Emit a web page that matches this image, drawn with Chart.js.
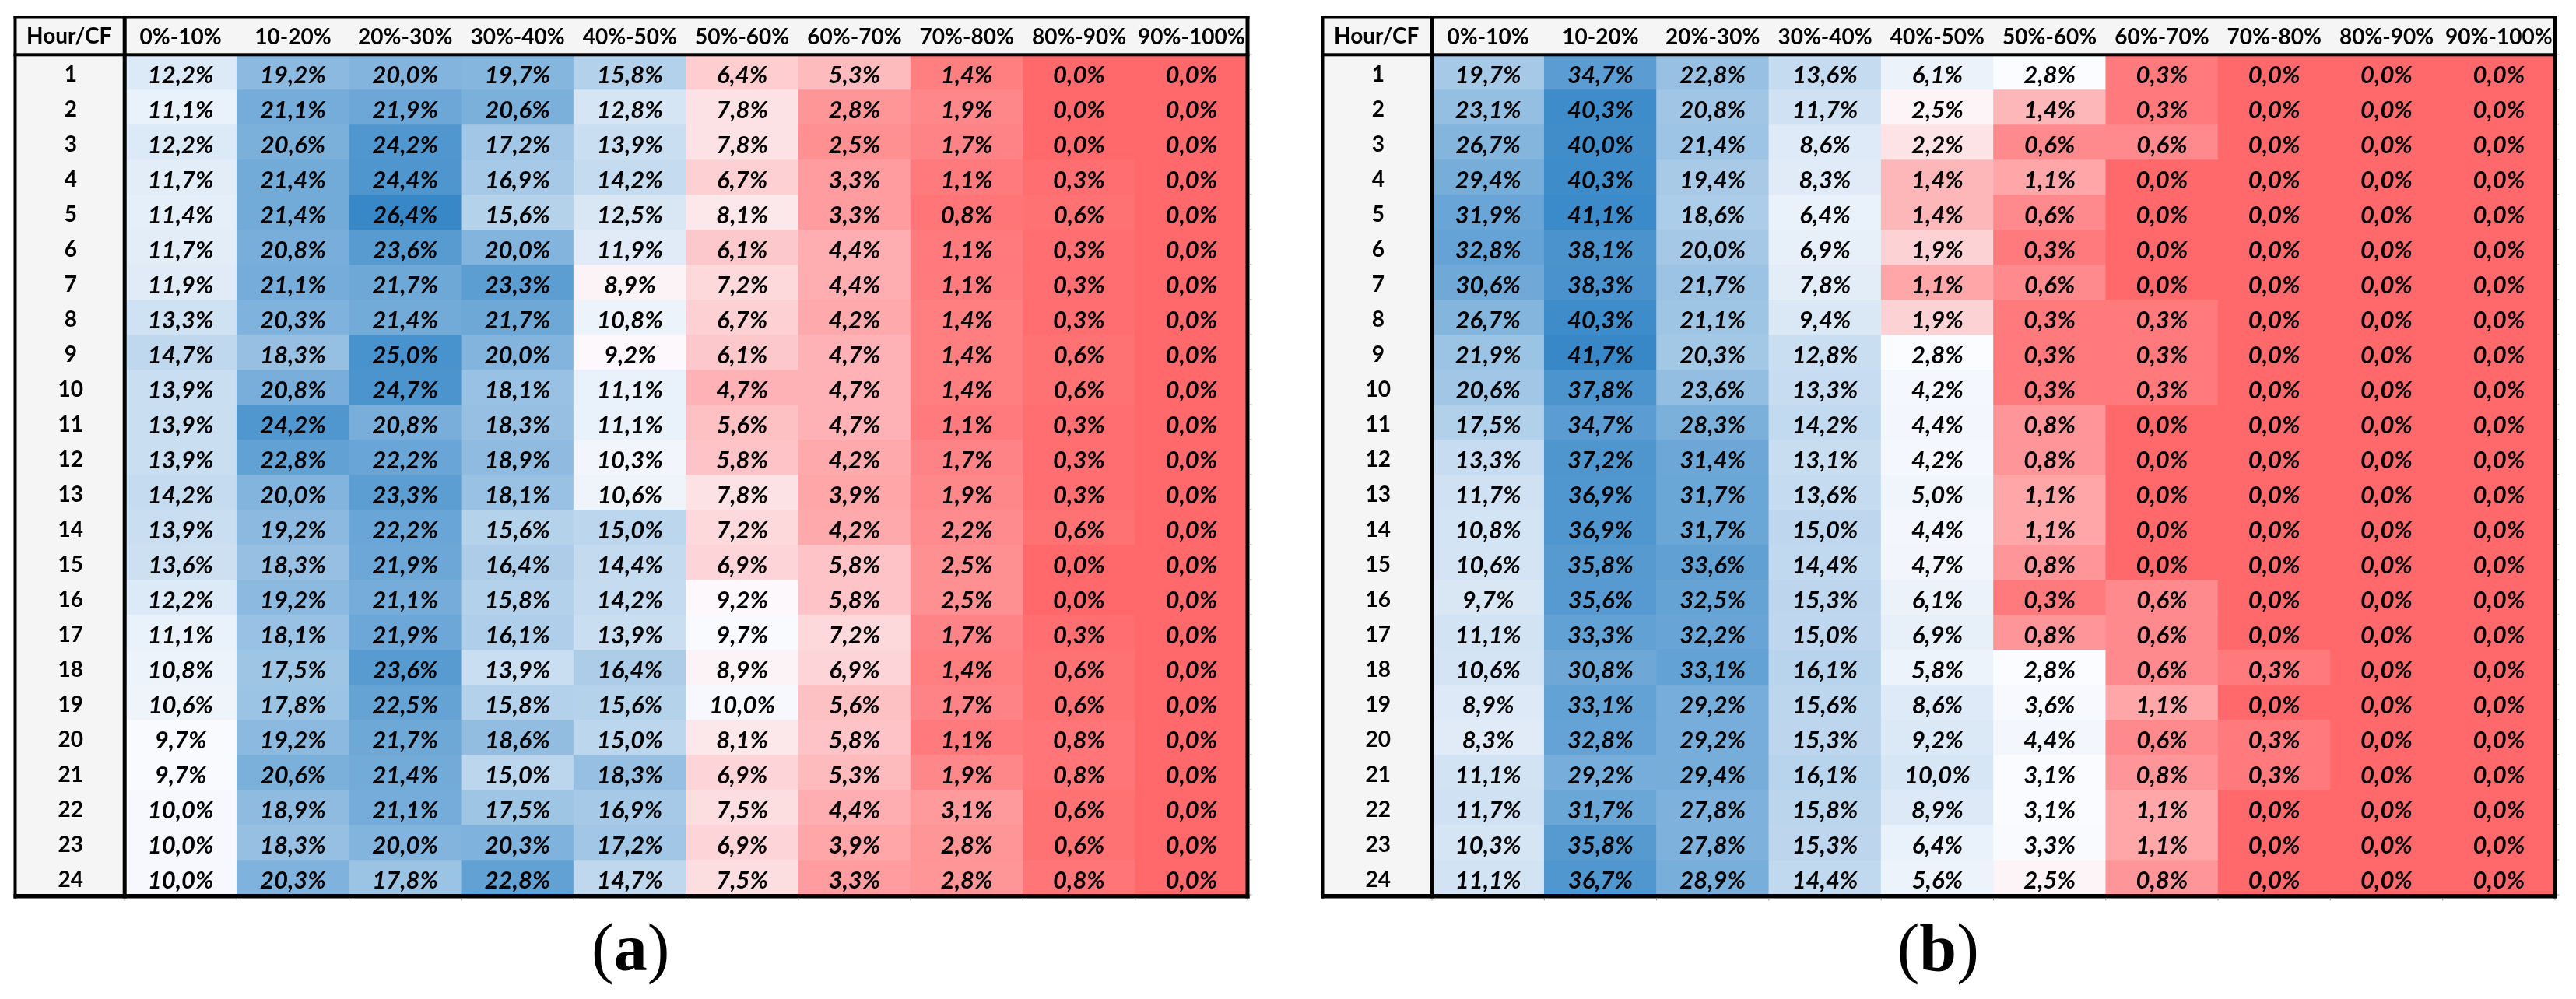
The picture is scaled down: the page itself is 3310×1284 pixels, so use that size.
<!DOCTYPE html>
<html>
<head>
<meta charset="utf-8">
<title>Hour / CF</title>
<script src="https://cdn.jsdelivr.net/npm/chart.js@4.4.1/dist/chart.umd.min.js"></script>
<style>
  body { margin: 0; background: #fff; }
  .tableau { position: absolute; top: 0; }
  #tableau-a { left: 0; }
  #tableau-b { left: 1680px; }
</style>
</head>
<body>
<canvas id="tableau-a" class="tableau" width="1630" height="1284"></canvas>
<canvas id="tableau-b" class="tableau" width="1630" height="1284"></canvas>
<script>
// column headers (capacity factor bins) and row labels (hours)
const bins = ["0%-10%", "10-20%", "20%-30%", "30%-40%", "40%-50%", "50%-60%", "60%-70%", "70%-80%", "80%-90%", "90%-100%"];
const hours = ["1", "2", "3", "4", "5", "6", "7", "8", "9", "10", "11", "12",
               "13", "14", "15", "16", "17", "18", "19", "20", "21", "22", "23", "24"];

// table (a), one line per hour, in %
const valuesA = [
  [12.2, 19.2, 20.0, 19.7, 15.8, 6.4, 5.3, 1.4, 0.0, 0.0],
  [11.1, 21.1, 21.9, 20.6, 12.8, 7.8, 2.8, 1.9, 0.0, 0.0],
  [12.2, 20.6, 24.2, 17.2, 13.9, 7.8, 2.5, 1.7, 0.0, 0.0],
  [11.7, 21.4, 24.4, 16.9, 14.2, 6.7, 3.3, 1.1, 0.3, 0.0],
  [11.4, 21.4, 26.4, 15.6, 12.5, 8.1, 3.3, 0.8, 0.6, 0.0],
  [11.7, 20.8, 23.6, 20.0, 11.9, 6.1, 4.4, 1.1, 0.3, 0.0],
  [11.9, 21.1, 21.7, 23.3, 8.9, 7.2, 4.4, 1.1, 0.3, 0.0],
  [13.3, 20.3, 21.4, 21.7, 10.8, 6.7, 4.2, 1.4, 0.3, 0.0],
  [14.7, 18.3, 25.0, 20.0, 9.2, 6.1, 4.7, 1.4, 0.6, 0.0],
  [13.9, 20.8, 24.7, 18.1, 11.1, 4.7, 4.7, 1.4, 0.6, 0.0],
  [13.9, 24.2, 20.8, 18.3, 11.1, 5.6, 4.7, 1.1, 0.3, 0.0],
  [13.9, 22.8, 22.2, 18.9, 10.3, 5.8, 4.2, 1.7, 0.3, 0.0],
  [14.2, 20.0, 23.3, 18.1, 10.6, 7.8, 3.9, 1.9, 0.3, 0.0],
  [13.9, 19.2, 22.2, 15.6, 15.0, 7.2, 4.2, 2.2, 0.6, 0.0],
  [13.6, 18.3, 21.9, 16.4, 14.4, 6.9, 5.8, 2.5, 0.0, 0.0],
  [12.2, 19.2, 21.1, 15.8, 14.2, 9.2, 5.8, 2.5, 0.0, 0.0],
  [11.1, 18.1, 21.9, 16.1, 13.9, 9.7, 7.2, 1.7, 0.3, 0.0],
  [10.8, 17.5, 23.6, 13.9, 16.4, 8.9, 6.9, 1.4, 0.6, 0.0],
  [10.6, 17.8, 22.5, 15.8, 15.6, 10.0, 5.6, 1.7, 0.6, 0.0],
  [9.7, 19.2, 21.7, 18.6, 15.0, 8.1, 5.8, 1.1, 0.8, 0.0],
  [9.7, 20.6, 21.4, 15.0, 18.3, 6.9, 5.3, 1.9, 0.8, 0.0],
  [10.0, 18.9, 21.1, 17.5, 16.9, 7.5, 4.4, 3.1, 0.6, 0.0],
  [10.0, 18.3, 20.0, 20.3, 17.2, 6.9, 3.9, 2.8, 0.6, 0.0],
  [10.0, 20.3, 17.8, 22.8, 14.7, 7.5, 3.3, 2.8, 0.8, 0.0]
];

// table (b)
const valuesB = [
  [19.7, 34.7, 22.8, 13.6, 6.1, 2.8, 0.3, 0.0, 0.0, 0.0],
  [23.1, 40.3, 20.8, 11.7, 2.5, 1.4, 0.3, 0.0, 0.0, 0.0],
  [26.7, 40.0, 21.4, 8.6, 2.2, 0.6, 0.6, 0.0, 0.0, 0.0],
  [29.4, 40.3, 19.4, 8.3, 1.4, 1.1, 0.0, 0.0, 0.0, 0.0],
  [31.9, 41.1, 18.6, 6.4, 1.4, 0.6, 0.0, 0.0, 0.0, 0.0],
  [32.8, 38.1, 20.0, 6.9, 1.9, 0.3, 0.0, 0.0, 0.0, 0.0],
  [30.6, 38.3, 21.7, 7.8, 1.1, 0.6, 0.0, 0.0, 0.0, 0.0],
  [26.7, 40.3, 21.1, 9.4, 1.9, 0.3, 0.3, 0.0, 0.0, 0.0],
  [21.9, 41.7, 20.3, 12.8, 2.8, 0.3, 0.3, 0.0, 0.0, 0.0],
  [20.6, 37.8, 23.6, 13.3, 4.2, 0.3, 0.3, 0.0, 0.0, 0.0],
  [17.5, 34.7, 28.3, 14.2, 4.4, 0.8, 0.0, 0.0, 0.0, 0.0],
  [13.3, 37.2, 31.4, 13.1, 4.2, 0.8, 0.0, 0.0, 0.0, 0.0],
  [11.7, 36.9, 31.7, 13.6, 5.0, 1.1, 0.0, 0.0, 0.0, 0.0],
  [10.8, 36.9, 31.7, 15.0, 4.4, 1.1, 0.0, 0.0, 0.0, 0.0],
  [10.6, 35.8, 33.6, 14.4, 4.7, 0.8, 0.0, 0.0, 0.0, 0.0],
  [9.7, 35.6, 32.5, 15.3, 6.1, 0.3, 0.6, 0.0, 0.0, 0.0],
  [11.1, 33.3, 32.2, 15.0, 6.9, 0.8, 0.6, 0.0, 0.0, 0.0],
  [10.6, 30.8, 33.1, 16.1, 5.8, 2.8, 0.6, 0.3, 0.0, 0.0],
  [8.9, 33.1, 29.2, 15.6, 8.6, 3.6, 1.1, 0.0, 0.0, 0.0],
  [8.3, 32.8, 29.2, 15.3, 9.2, 4.4, 0.6, 0.3, 0.0, 0.0],
  [11.1, 29.2, 29.4, 16.1, 10.0, 3.1, 0.8, 0.3, 0.0, 0.0],
  [11.7, 31.7, 27.8, 15.8, 8.9, 3.1, 1.1, 0.0, 0.0, 0.0],
  [10.3, 35.8, 27.8, 15.3, 6.4, 3.3, 1.1, 0.0, 0.0, 0.0],
  [11.1, 36.7, 28.9, 14.4, 5.6, 2.5, 0.8, 0.0, 0.0, 0.0]
];

// 3 colour scale like the spreadsheet: red (min) -> white (median) -> blue (max)
const red = [255, 105, 107];
const white = [252, 252, 255];
const blue = [56, 136, 200];

function mix(c1, c2, t) {
  return "rgb(" + c1.map((c, k) => Math.round(c + (c2[k] - c) * t)).join(",") + ")";
}

function percentile(list, p) {
  const s = [...list].sort((a, b) => a - b);
  const r = p * (s.length - 1);
  const i = Math.floor(r);
  return s[i] + (s[Math.min(i + 1, s.length - 1)] - s[i]) * (r - i);
}

function cellColor(v, min, mid, max) {
  if (v <= mid) return mix(red, white, (v - min) / (mid - min));
  return mix(white, blue, (v - mid) / (max - mid));
}

function formatPct(v) {
  return v.toFixed(1).replace(".", ",") + "%";
}

const LEFT = 17.5;   // outer frame
const TOP = 20.5;
const TEXT_SHIFT = 0.08; // text sits a bit low in its cell (in rows)

const tablePlugin = {
  id: "tableau",
  beforeDraw(chart) {
    const { ctx, chartArea: a } = chart;
    ctx.save();
    ctx.fillStyle = "#f5f5f5";
    ctx.fillRect(LEFT, TOP, a.right - LEFT, a.top - TOP);
    ctx.fillRect(LEFT, a.top, a.left - LEFT, a.bottom - a.top);
    ctx.restore();
  },
  afterDatasetsDraw(chart) {
    const ctx = chart.ctx;
    ctx.save();
    ctx.font = "italic bold 31px Lato";
    ctx.fillStyle = "#000";
    ctx.textAlign = "center";
    ctx.textBaseline = "alphabetic";
    chart.data.datasets.forEach((ds, i) => {
      chart.getDatasetMeta(i).data.forEach((bar, j) => {
        const mid = (bar.y + bar.base) / 2;
        ctx.fillText(formatPct(ds.data[j].v), bar.x, mid + 14.5);
      });
    });
    ctx.restore();
  },
  afterDraw(chart, args, opts) {
    const { ctx, chartArea: a } = chart;
    const right = a.right + 2.5;
    const bottom = a.bottom + 4.5;
    ctx.save();

    // corner title
    ctx.font = "bold 28px Lato";
    ctx.fillStyle = "#000";
    ctx.textAlign = "center";
    ctx.textBaseline = "middle";
    ctx.fillText("Hour/CF", (LEFT + a.left) / 2, 46.5);

    // frame and separators
    ctx.fillRect(LEFT, TOP, right - LEFT, 3);
    ctx.fillRect(LEFT, TOP, 4, bottom - TOP);
    ctx.fillRect(a.right - 2.5, TOP, 5, bottom - TOP);
    ctx.fillRect(LEFT, a.bottom - 1, right - LEFT, 5.5);
    ctx.fillRect(LEFT, a.top - 1.5, right - LEFT, 4);
    ctx.fillRect(a.left - 2.3, TOP, 5, bottom - TOP);

    // little tick marks outside the frame
    ctx.fillStyle = "#9a9a9a";
    for (let j = 0; j <= bins.length; j++) {
      const px = a.left + j * (a.right - a.left) / bins.length;
      ctx.fillRect(px - 0.5, bottom, 1, 3);
    }
    for (let i = 0; i <= hours.length; i++) {
      const py = a.top + i * (a.bottom - a.top) / hours.length;
      ctx.fillRect(right, py - 0.5, 3, 1);
    }

    // (a) / (b) caption
    const cx = (LEFT + a.right) / 2;
    const base = 1247;
    ctx.fillStyle = "#000";
    ctx.textAlign = "left";
    ctx.textBaseline = "alphabetic";
    const fReg = "86px 'Liberation Serif'";
    const fBold = "bold 86px 'Liberation Serif'";
    ctx.font = fReg;
    const wp = ctx.measureText("(").width;
    const wq = ctx.measureText(")").width;
    ctx.font = fBold;
    const wl = ctx.measureText(opts.caption).width;
    const px = cx - (wp + wl + wq) / 2;
    ctx.font = fReg;
    ctx.fillText("(", px, base);
    ctx.font = fBold;
    ctx.fillText(opts.caption, px + wp, base);
    ctx.font = fReg;
    ctx.fillText(")", px + wp + wl, base);
    ctx.restore();
  }
};

function drawTable(canvasId, values, caption) {
  const all = values.flat();
  const min = Math.min(...all);
  const max = Math.max(...all);
  const mid = percentile(all, 0.5);

  // one dataset per hour, each cell a floating bar spanning its row
  const datasets = values.map((row, i) => ({
    label: hours[i],
    data: row.map((v, j) => ({ x: bins[j], y: [i, i + 1], v: v })),
    backgroundColor: row.map(v => cellColor(v, min, mid, max)),
    borderWidth: 0,
    grouped: false,
    barPercentage: 1,
    categoryPercentage: 1,
    xAxisID: "x",
    yAxisID: "y"
  }));

  const tickFont = { family: "Lato", weight: "bold", size: 28 };

  const config = {
    type: "bar",
    data: { labels: bins, datasets: datasets },
    options: {
      responsive: false,
      animation: false,
      layout: { padding: { left: 18, top: 21, right: 27, bottom: 134 } },
      plugins: {
        legend: { display: false },
        tooltip: { enabled: false },
        tableau: { caption: caption }
      },
      scales: {
        x: {
          type: "category",
          position: "top",
          offset: true,
          grid: { display: false, drawTicks: false },
          border: { display: false },
          ticks: { color: "#000", font: tickFont, padding: 5, maxRotation: 0, autoSkip: false },
          afterFit: s => { s.height = 47; }
        },
        y: { type: "linear", min: 0, max: 24, reverse: true, display: false },
        // hour labels: tick k sits in the middle of row k, nudged down a little
        yHours: {
          type: "linear",
          axis: "y",
          position: "left",
          reverse: true,
          min: 0.5 - TEXT_SHIFT,
          max: hours.length + 0.5 - TEXT_SHIFT,
          grid: { display: false, drawTicks: false },
          border: { display: false },
          ticks: {
            color: "#000", font: tickFont, crossAlign: "center", padding: 53,
            autoSkip: false,
            callback: v => hours[v - 1]
          },
          afterBuildTicks: s => { s.ticks = hours.map((h, i) => ({ value: i + 1 })); },
          afterFit: s => { s.width = 142; }
        }
      }
    },
    plugins: [tablePlugin]
  };

  new Chart(document.querySelector(canvasId), config);
}

Promise.all([
  document.fonts.load("italic bold 31px Lato"),
  document.fonts.load("bold 28px Lato"),
  document.fonts.load("bold 86px 'Liberation Serif'"),
  document.fonts.load("86px 'Liberation Serif'")
]).catch(() => {}).then(() => {
  drawTable("#tableau-a", valuesA, "a");
  drawTable("#tableau-b", valuesB, "b");
});
</script>
</body>
</html>
